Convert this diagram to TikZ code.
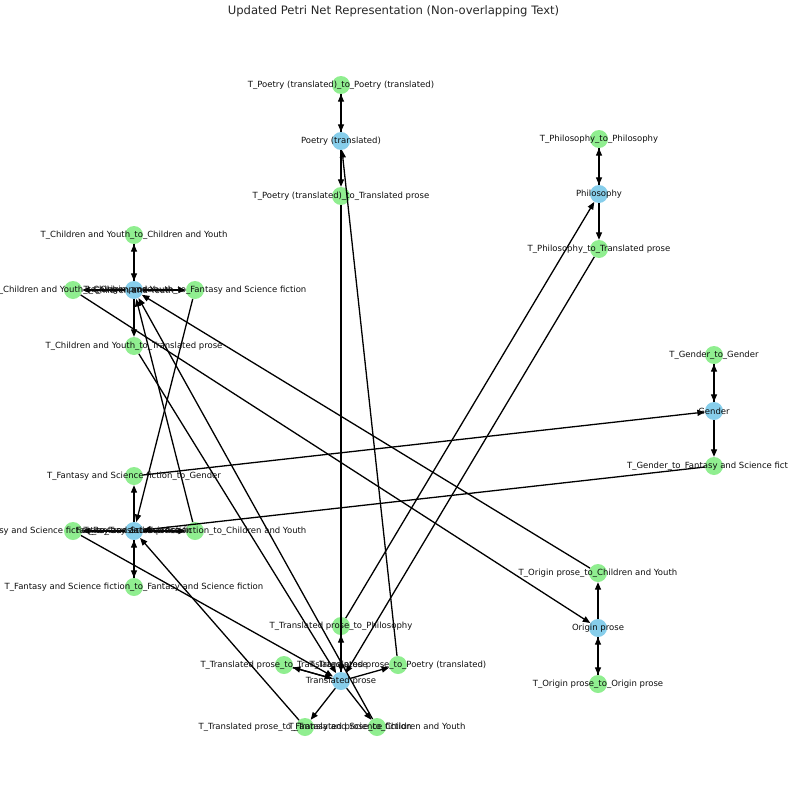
\documentclass[tikz,border=0pt]{standalone}
\usepackage{fontspec}
\setmainfont{DejaVu Sans}
\usepackage{tikz}
\usetikzlibrary{arrows.meta}
\definecolor{placeblue}{RGB}{135,206,235}
\definecolor{transgreen}{RGB}{144,238,144}
\definecolor{titlegray}{RGB}{38,38,38}
\tikzset{
  place/.style={circle,fill=placeblue,minimum size=18pt,inner sep=0pt},
  trans/.style={circle,fill=transgreen,minimum size=18pt,inner sep=0pt},
  arc/.style={-{Triangle[length=7.5pt,width=6pt]},line width=1.3pt,black},
  nodelabel/.style={font=\fontsize{8.5}{10}\selectfont,inner sep=0pt,text=black!95}
}

\begin{document}
\begin{tikzpicture}[x=1pt,y=-1pt]
  \useasboundingbox (0,0) rectangle (787,800);
  \node[font=\fontsize{11.6}{14}\selectfont,text=titlegray] (title) at (393.5,11) {Updated Petri Net Representation (Non-overlapping Text)};
  % places
  \node[place] (poetry)  at (341,141) {};
  \node[place] (philo)   at (599,194) {};
  \node[place] (youth)   at (134,290) {};
  \node[place] (gender)  at (714,411) {};
  \node[place] (fantasy) at (134,531) {};
  \node[place] (origin)  at (598,628) {};
  \node[place] (transl)  at (341,681) {};
  % transitions
  \node[trans] (tpp) at (341,85) {};
  \node[trans] (tpt) at (341,196) {};
  \node[trans] (thh) at (599,139) {};
  \node[trans] (tht) at (599,249) {};
  \node[trans] (tyy) at (134,235) {};
  \node[trans] (tyo) at (73,290) {};
  \node[trans] (tyf) at (195,290) {};
  \node[trans] (tyt) at (134,346) {};
  \node[trans] (tgg) at (714,355) {};
  \node[trans] (tgf) at (714,466) {};
  \node[trans] (tfg) at (134,476) {};
  \node[trans] (tft) at (73,531) {};
  \node[trans] (tfy) at (195,531) {};
  \node[trans] (tff) at (134,587) {};
  \node[trans] (toy) at (598,573) {};
  \node[trans] (too) at (598,684) {};
  \node[trans] (tth) at (341,626) {};
  \node[trans] (ttt) at (284,665) {};
  \node[trans] (ttp) at (398,665) {};
  \node[trans] (ttf) at (305,727) {};
  \node[trans] (tty) at (377,727) {};
  % arcs
  \draw[arc] (poetry) -- (tpp);
  \draw[arc] (tpp) -- (poetry);
  \draw[arc] (poetry) -- (tpt);
  \draw[arc] (tpt) -- (transl);
  \draw[arc] (philo) -- (thh);
  \draw[arc] (thh) -- (philo);
  \draw[arc] (philo) -- (tht);
  \draw[arc] (tht) -- (transl);
  \draw[arc] (youth) -- (tyy);
  \draw[arc] (tyy) -- (youth);
  \draw[arc] (youth) -- (tyo);
  \draw[arc] (tyo) -- (origin);
  \draw[arc] (youth) -- (tyf);
  \draw[arc] (tyf) -- (fantasy);
  \draw[arc] (youth) -- (tyt);
  \draw[arc] (tyt) -- (transl);
  \draw[arc] (gender) -- (tgg);
  \draw[arc] (tgg) -- (gender);
  \draw[arc] (gender) -- (tgf);
  \draw[arc] (tgf) -- (fantasy);
  \draw[arc] (fantasy) -- (tfg);
  \draw[arc] (tfg) -- (gender);
  \draw[arc] (fantasy) -- (tft);
  \draw[arc] (tft) -- (transl);
  \draw[arc] (fantasy) -- (tfy);
  \draw[arc] (tfy) -- (youth);
  \draw[arc] (fantasy) -- (tff);
  \draw[arc] (tff) -- (fantasy);
  \draw[arc] (origin) -- (toy);
  \draw[arc] (toy) -- (youth);
  \draw[arc] (origin) -- (too);
  \draw[arc] (too) -- (origin);
  \draw[arc] (transl) -- (tth);
  \draw[arc] (tth) -- (philo);
  \draw[arc] (transl) -- (ttt);
  \draw[arc] (ttt) -- (transl);
  \draw[arc] (transl) -- (ttp);
  \draw[arc] (ttp) -- (poetry);
  \draw[arc] (transl) -- (ttf);
  \draw[arc] (ttf) -- (fantasy);
  \draw[arc] (transl) -- (tty);
  \draw[arc] (tty) -- (youth);
  % labels
  \node[nodelabel] (poetryl)  at (poetry)  {Poetry (translated)};
  \node[nodelabel] (philol)   at (philo)   {Philosophy};
  \node[nodelabel] (youthl)   at (youth)   {Children and Youth};
  \node[nodelabel] (genderl)  at (gender)  {Gender};
  \node[nodelabel] (fantasyl) at (fantasy) {Fantasy and Science fiction};
  \node[nodelabel] (originl)  at (origin)  {Origin prose};
  \node[nodelabel] (transll)  at (transl)  {Translated prose};
  \node[nodelabel] (tppl) at (tpp) {T\_Poetry (translated)\_to\_Poetry (translated)};
  \node[nodelabel] (tptl) at (tpt) {T\_Poetry (translated)\_to\_Translated prose};
  \node[nodelabel] (thhl) at (thh) {T\_Philosophy\_to\_Philosophy};
  \node[nodelabel] (thtl) at (tht) {T\_Philosophy\_to\_Translated prose};
  \node[nodelabel] (tyyl) at (tyy) {T\_Children and Youth\_to\_Children and Youth};
  \node[nodelabel] (tyol) at (tyo) {T\_Children and Youth\_to\_Origin prose};
  \node[nodelabel] (tyfl) at (tyf) {T\_Children and Youth\_to\_Fantasy and Science fiction};
  \node[nodelabel] (tytl) at (tyt) {T\_Children and Youth\_to\_Translated prose};
  \node[nodelabel] (tggl) at (tgg) {T\_Gender\_to\_Gender};
  \node[nodelabel] (tgfl) at (tgf) {T\_Gender\_to\_Fantasy and Science fiction};
  \node[nodelabel] (tfgl) at (tfg) {T\_Fantasy and Science fiction\_to\_Gender};
  \node[nodelabel] (tftl) at (tft) {T\_Fantasy and Science fiction\_to\_Translated prose};
  \node[nodelabel] (tfyl) at (tfy) {T\_Fantasy and Science fiction\_to\_Children and Youth};
  \node[nodelabel] (tffl) at (tff) {T\_Fantasy and Science fiction\_to\_Fantasy and Science fiction};
  \node[nodelabel] (toyl) at (toy) {T\_Origin prose\_to\_Children and Youth};
  \node[nodelabel] (tool) at (too) {T\_Origin prose\_to\_Origin prose};
  \node[nodelabel] (tthl) at (tth) {T\_Translated prose\_to\_Philosophy};
  \node[nodelabel] (tttl) at (ttt) {T\_Translated prose\_to\_Translated prose};
  \node[nodelabel] (ttpl) at (ttp) {T\_Translated prose\_to\_Poetry (translated)};
  \node[nodelabel] (ttfl) at (ttf) {T\_Translated prose\_to\_Fantasy and Science fiction};
  \node[nodelabel] (ttyl) at (tty) {T\_Translated prose\_to\_Children and Youth};
\end{tikzpicture}
\end{document}
